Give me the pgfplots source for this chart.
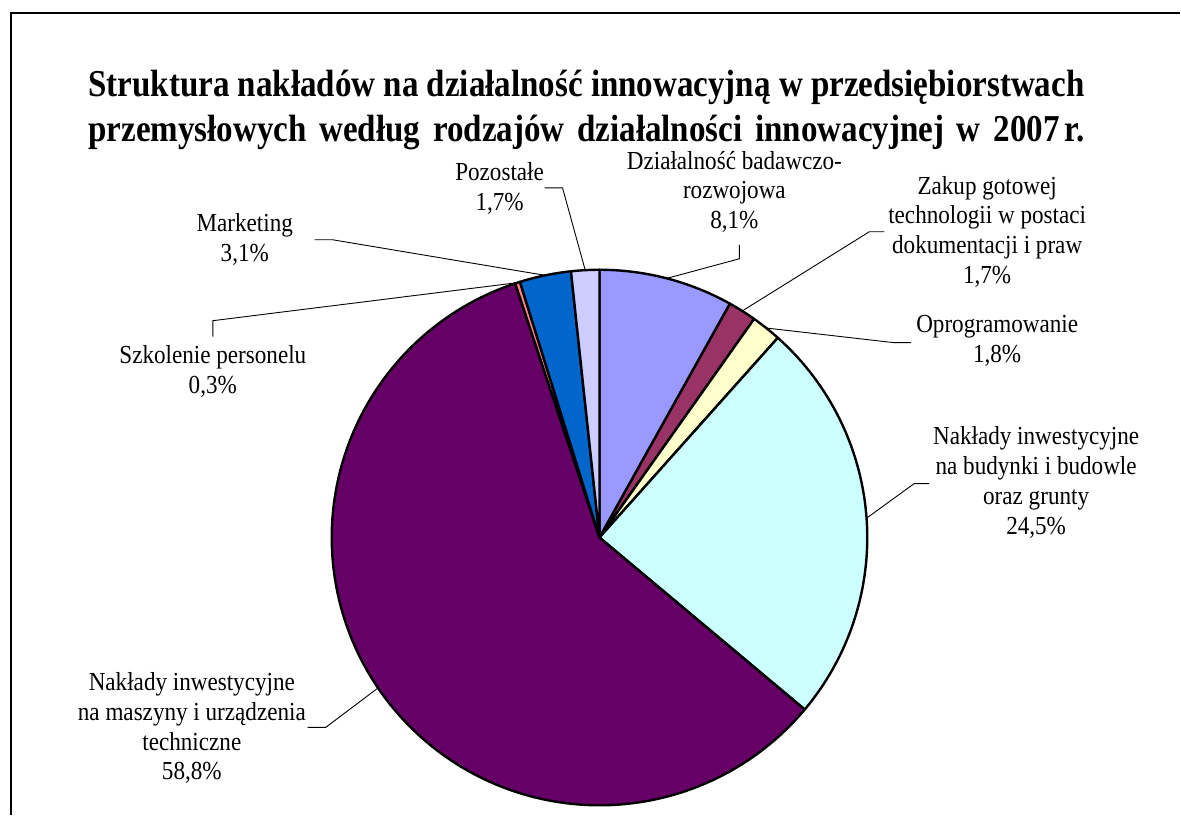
\documentclass[border=0pt]{standalone}
\usepackage{fontspec}
\setmainfont{Liberation Serif}
\usepackage{graphicx}
\usepackage{pgfplots}
\pgfplotsset{compat=1.18}
\definecolor{cRD}{HTML}{9999FF}
\definecolor{cZak}{HTML}{993366}
\definecolor{cOpr}{HTML}{FFFFCC}
\definecolor{cBud}{HTML}{CCFFFF}
\definecolor{cMas}{HTML}{660066}
\definecolor{cSzk}{HTML}{FF8080}
\definecolor{cMar}{HTML}{0066CC}
\definecolor{cPoz}{HTML}{CCCCFF}
\newcommand{\lab}[1]{\scalebox{0.89}[1]{\fontsize{13pt}{14.9pt}\selectfont\begin{tabular}{@{}c@{}}#1\end{tabular}}}
\newcommand{\ttl}{\fontsize{19pt}{22.5pt}\selectfont\bfseries}
\newcommand{\sx}[1]{\scalebox{0.87}[1]{#1}}
% shares (%): 8.1, 1.7, 1.8, 24.5, 58.8, 0.3, 3.1, 1.7 -- clockwise from 12 o'clock, 3.6 deg per %
\pgfplotsset{slice/.style={draw=black, line width=1.2pt, line join=round, samples=120, variable=\t}}
\begin{document}
\begin{tikzpicture}
\begin{axis}[width=590.5pt,height=408pt,scale only axis,
  xmin=0,xmax=1181,ymin=0,ymax=816,hide axis,clip=false]
\path (axis cs:0,0) rectangle (axis cs:1181,816);
\draw[line width=1pt] (axis cs:11,0) -- (axis cs:11,803) -- (axis cs:1181,803);
% pie slices
\addplot[slice, fill=cRD,  domain=60.84:90]      ({600+268*cos(\t)},{278+268*sin(\t)}) -- (axis cs:600,278) -- cycle;
\addplot[slice, fill=cZak, domain=54.72:60.84]   ({600+268*cos(\t)},{278+268*sin(\t)}) -- (axis cs:600,278) -- cycle;
\addplot[slice, fill=cOpr, domain=48.24:54.72]   ({600+268*cos(\t)},{278+268*sin(\t)}) -- (axis cs:600,278) -- cycle;
\addplot[slice, fill=cBud, domain=-39.96:48.24]  ({600+268*cos(\t)},{278+268*sin(\t)}) -- (axis cs:600,278) -- cycle;
\addplot[slice, fill=cMas, domain=-251.64:-39.96]({600+268*cos(\t)},{278+268*sin(\t)}) -- (axis cs:600,278) -- cycle;
\addplot[slice, fill=cSzk, domain=-252.72:-251.64]({600+268*cos(\t)},{278+268*sin(\t)}) -- (axis cs:600,278) -- cycle;
\addplot[slice, fill=cMar, domain=-263.88:-252.72]({600+268*cos(\t)},{278+268*sin(\t)}) -- (axis cs:600,278) -- cycle;
\addplot[slice, fill=cPoz, domain=-270:-263.88]  ({600+268*cos(\t)},{278+268*sin(\t)}) -- (axis cs:600,278) -- cycle;
% leader lines
\addplot[black, line width=0.45pt, mark=none] coordinates {(545,628) (563,628) (585.7,545.6)};
\addplot[black, line width=0.45pt, mark=none] coordinates {(740,571) (740,557) (667.5,537.4)};
\addplot[black, line width=0.45pt, mark=none] coordinates {(885,584) (870,584) (742.9,504.8)};
\addplot[black, line width=0.45pt, mark=none] coordinates {(912,473) (895,473) (766.8,487.7)};
\addplot[black, line width=0.45pt, mark=none] coordinates {(930,332) (915,332) (867.3,297.4)};
\addplot[black, line width=0.45pt, mark=none] coordinates {(308,88) (326,88) (378.3,127.4)};
\addplot[black, line width=0.45pt, mark=none] coordinates {(213,479) (213,495) (518,533.1)};
\addplot[black, line width=0.45pt, mark=none] coordinates {(315,576) (333,576) (545.6,540.4)};
% labels
\node[inner sep=0pt] at (axis cs:500,626) {\lab{Pozostałe\\1,7\%}};
\node[inner sep=0pt] at (axis cs:735,623) {\lab{Działalność badawczo-\\rozwojowa\\8,1\%}};
\node[inner sep=0pt] at (axis cs:988,583) {\lab{Zakup gotowej\\technologii w postaci\\dokumentacji i praw\\1,7\%}};
\node[inner sep=0pt] at (axis cs:998,474) {\lab{Oprogramowanie\\1,8\%}};
\node[inner sep=0pt] at (axis cs:1037,332) {\lab{Nakłady inwestycyjne\\na budynki i budowle\\oraz grunty\\24,5\%}};
\node[inner sep=0pt] at (axis cs:192,86) {\lab{Nakłady inwestycyjne\\na maszyny i urządzenia\\techniczne\\58,8\%}};
\node[inner sep=0pt] at (axis cs:213,443) {\lab{Szkolenie personelu\\0,3\%}};
\node[inner sep=0pt] at (axis cs:245,575) {\lab{Marketing\\3,1\%}};
% title
\node[inner sep=0pt, anchor=base west] at (axis cs:88,719)
  {\ttl\resizebox{498.5pt}{\height}{Struktura nakładów na działalność innowacyjną w przedsiębiorstwach}};
\node[inner sep=0pt, anchor=base west] at (axis cs:88,674)
  {\ttl\makebox[498.5pt][s]{\sx{przemysłowych} \sx{według} \sx{rodzajów} \sx{działalności} \sx{innowacyjnej} \sx{w} \sx{2007\kern0.15em r.}}};
\end{axis}
\end{tikzpicture}
\end{document}
